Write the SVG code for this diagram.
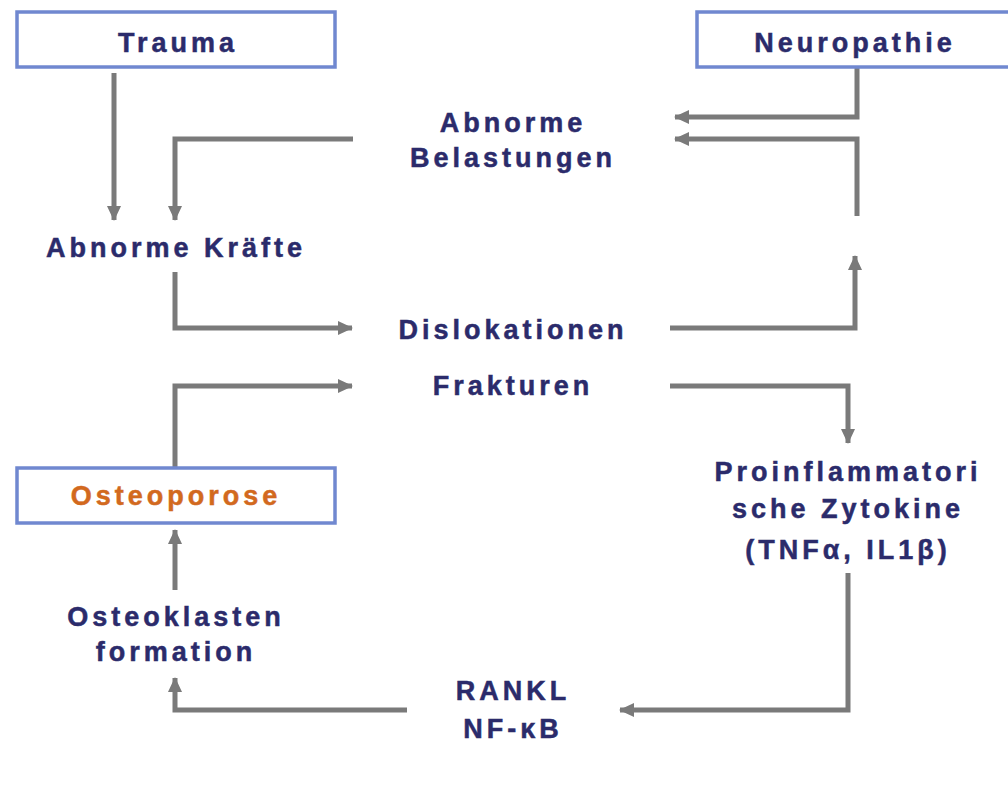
<svg xmlns="http://www.w3.org/2000/svg" width="1008" height="785" viewBox="0 0 1008 785">
<style>
.box{fill:#fff;stroke:#7088d0;stroke-width:3.5}
.t{font-family:"Liberation Sans",Arial,sans-serif;font-weight:bold;font-size:27px;letter-spacing:4px;fill:#2b2b6b;stroke:#2b2b6b;stroke-width:0.5;text-anchor:middle}
.o{fill:#d2691e;stroke:#d2691e}
.c{fill:none;stroke:#7a7a7a;stroke-width:5;stroke-linejoin:miter}
</style>
<defs>
<marker id="ah" markerUnits="userSpaceOnUse" markerWidth="16" markerHeight="16" viewBox="0 0 16 16" refX="14" refY="8" orient="auto">
<path d="M0,1 L15,8 L0,15 Z" fill="#7a7a7a"/>
</marker>
</defs>
<rect width="1008" height="785" fill="#fff"/>
<g id="connectors">
<path class="c" d="M114,73 V220" marker-end="url(#ah)"/>
<path class="c" d="M353,139 H175 V220" marker-end="url(#ah)"/>
<path class="c" d="M857,67 V117 H675" marker-end="url(#ah)"/>
<path class="c" d="M857,216 V139 H675" marker-end="url(#ah)"/>
<path class="c" d="M670,328 H855 V256" marker-end="url(#ah)"/>
<path class="c" d="M670,386 H848 V443" marker-end="url(#ah)"/>
<path class="c" d="M848,573 V710 H620" marker-end="url(#ah)"/>
<path class="c" d="M407,710 H175 V678" marker-end="url(#ah)"/>
<path class="c" d="M175,590 V530" marker-end="url(#ah)"/>
<path class="c" d="M175,468 V386 H352" marker-end="url(#ah)"/>
<path class="c" d="M175,272 V328 H352" marker-end="url(#ah)"/>
</g>
<g id="trauma">
<rect class="box" x="17" y="12" width="318" height="55"/>
<text class="t" x="178" y="52">Trauma</text>
</g>
<g id="neuropathie">
<rect class="box" x="697" y="12" width="330" height="55"/>
<text class="t" x="855" y="52">Neuropathie</text>
</g>
<g id="belastungen">
<text class="t" x="513" y="132">Abnorme</text>
<text class="t" x="513" y="167">Belastungen</text>
</g>
<g id="kraefte">
<text class="t" x="176" y="257">Abnorme Kräfte</text>
</g>
<g id="dislokationen">
<text class="t" x="513" y="339">Dislokationen</text>
</g>
<g id="frakturen">
<text class="t" x="513" y="395">Frakturen</text>
</g>
<g id="osteoporose">
<rect class="box" x="17" y="468" width="318" height="55"/>
<text class="t o" x="176" y="505">Osteoporose</text>
</g>
<g id="zytokine">
<text class="t" x="848" y="481">Proinflammatori</text>
<text class="t" x="848" y="518">sche Zytokine</text>
<text class="t" x="848" y="559">(TNFα, IL1β)</text>
</g>
<g id="osteoklasten">
<text class="t" x="176" y="626">Osteoklasten</text>
<text class="t" x="176" y="661">formation</text>
</g>
<g id="rankl">
<text class="t" x="513" y="700">RANKL</text>
<text class="t" x="513" y="738">NF-κB</text>
</g>
</svg>
